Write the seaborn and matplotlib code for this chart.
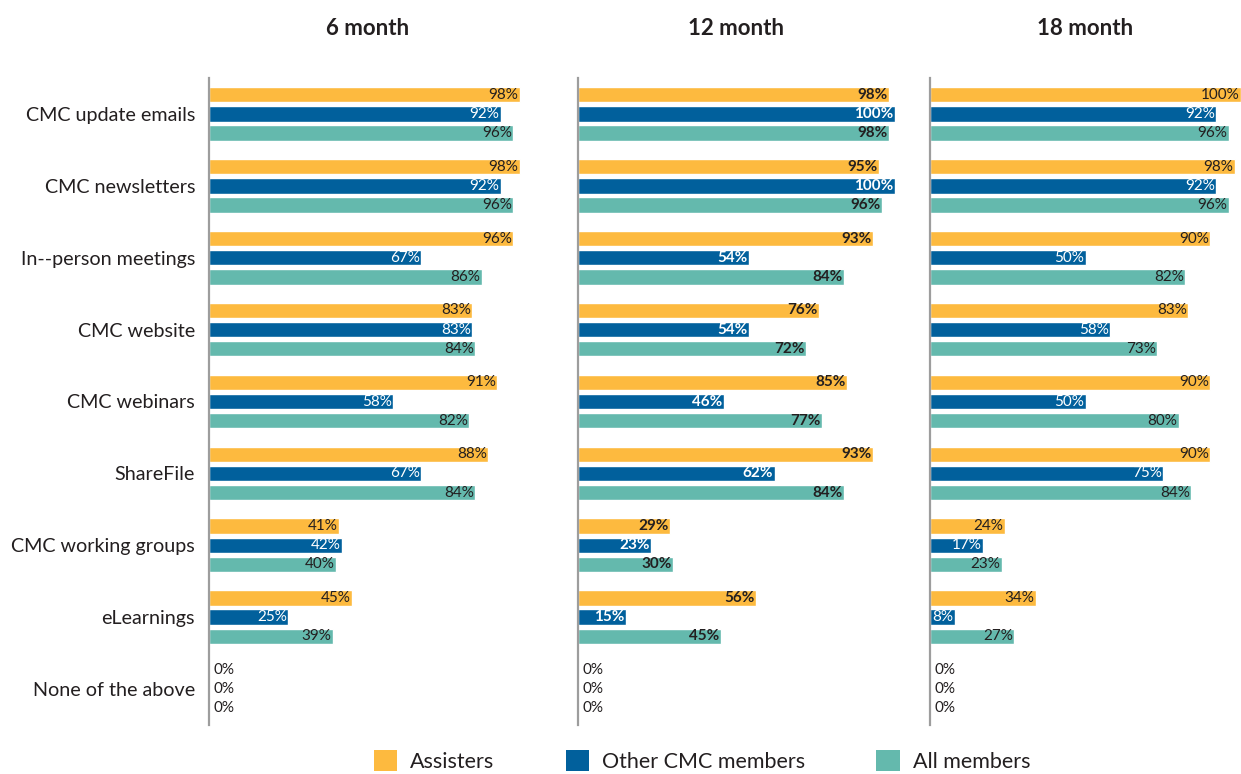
import pandas as pd
import numpy as np
import matplotlib.pyplot as plt
import seaborn as sns
from matplotlib.patches import Patch

# =========================
# DATA
# =========================
categories = ["CMC update emails", "CMC newsletters", "In--person meetings",
              "CMC website", "CMC webinars", "ShareFile",
              "CMC working groups", "eLearnings", "None of the above"]
groups = ["Assisters", "Other CMC members", "All members"]
periods = ["6 month", "12 month", "18 month"]

assisters_6 = [98, 98, 96, 83, 91, 88, 41, 45, 0]
other_6 = [92, 92, 67, 83, 58, 67, 42, 25, 0]
all_6 = [96, 96, 86, 84, 82, 84, 40, 39, 0]

assisters_12 = [98, 95, 93, 76, 85, 93, 29, 56, 0]
other_12 = [100, 100, 54, 54, 46, 62, 23, 15, 0]
all_12 = [98, 96, 84, 72, 77, 84, 30, 45, 0]

assisters_18 = [100, 98, 90, 83, 90, 90, 24, 34, 0]
other_18 = [92, 92, 50, 58, 50, 75, 17, 8, 0]
all_18 = [96, 96, 82, 73, 80, 84, 23, 27, 0]

panel_values = {
    "6 month": [assisters_6, other_6, all_6],
    "12 month": [assisters_12, other_12, all_12],
    "18 month": [assisters_18, other_18, all_18],
}

colors = ["#FDBA3F", "#01609C", "#64B9AD"]
text_colors = ["#231f20", "white", "#231f20"]

# =========================
# PLOT
# =========================
sns.set_style("white")
plt.rcParams["font.family"] = ["Lato", "DejaVu Sans"]

W, H = 1241, 774
fig = plt.figure(figsize=(W / 100, H / 100), dpi=100)

lefts = [209, 578, 930]
widths = [317, 317, 311]
top_px, bot_px = 78, 725

for i, period in enumerate(periods):
    rows = []
    for g, vals in zip(groups, panel_values[period]):
        for c, v in zip(categories, vals):
            rows.append({"category": c, "group": g, "value": v})
    df = pd.DataFrame(rows)

    ax = fig.add_axes([lefts[i] / W, (H - bot_px) / H, widths[i] / W,
                       (bot_px - top_px) / H])
    sns.barplot(data=df, y="category", x="value", hue="group", orient="h",
                palette=colors, width=0.8, gap=0.2, legend=False, ax=ax,
                saturation=1, order=categories, hue_order=groups)
    ax.set_xlim(0, 100)
    ax.set_ylim(8.5, -0.5)
    ax.set_xlabel("")
    ax.set_ylabel("")
    ax.set_xticks([])
    for s in ["top", "right", "bottom"]:
        ax.spines[s].set_visible(False)
    ax.spines["left"].set_color("#9d9d9d")
    ax.spines["left"].set_linewidth(1.6)

    weight = "bold" if period == "12 month" else "normal"
    for k, cont in enumerate(ax.containers):
        for bar in cont:
            v = bar.get_width()
            yc = bar.get_y() + bar.get_height() / 2
            if v == 0:
                ax.text(1.3, yc, "0%", ha="left", va="center", fontsize=11,
                        color="#231f20")
            else:
                ax.text(v - 0.4, yc, f"{v:.0f}%", ha="right", va="center",
                        fontsize=11, color=text_colors[k], fontweight=weight)

    if i == 0:
        ax.tick_params(axis="y", length=0, pad=10, labelsize=14.2,
                       labelcolor="#231f20")
    else:
        ax.set_yticklabels([])
        ax.tick_params(axis="y", length=0)

    ax.set_title(period, fontsize=16, fontweight="bold", color="#231f20",
                 pad=31)

handles = [Patch(facecolor=c, edgecolor="none") for c in colors]
fig.legend(handles, groups, loc="lower center", ncol=3,
           bbox_to_anchor=(702 / W, -0.022), frameon=False, fontsize=15.5,
           handlelength=1.1, handleheight=1.15, columnspacing=3.3,
           handletextpad=0.6, labelcolor="#231f20")

fig.savefig("out.png", dpi=100)
